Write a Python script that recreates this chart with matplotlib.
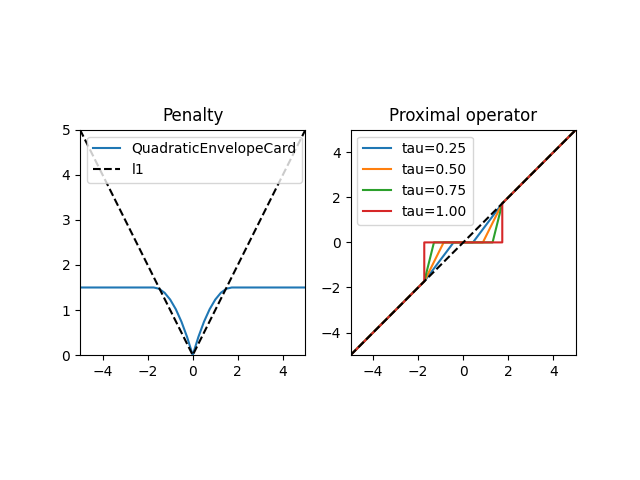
import matplotlib
matplotlib.use("Agg")
import matplotlib.pyplot as plt

# penalty curve (symmetric)
pen_x = [-5, -1.73, -1.5, -1.25, -1.0, -0.75, -0.5, -0.25, 0,
         0.25, 0.5, 0.75, 1.0, 1.25, 1.5, 1.73, 5]
pen_y = [1.5, 1.5, 1.473, 1.384, 1.232, 1.018, 0.741, 0.402, 0,
         0.402, 0.741, 1.018, 1.232, 1.384, 1.473, 1.5, 1.5]
l1_x = [-5, 0, 5]
l1_y = [5, 0, 5]

taus = [0.25, 0.50, 0.75, 1.00]
thresholds = [0.43, 0.87, 1.30, 1.73]  # where each prox leaves zero
knee = 1.73

fig, axes = plt.subplots(1, 2, figsize=(6.4, 4.8), dpi=100)

ax = axes[0]
ax.plot(pen_x, pen_y, label="QuadraticEnvelopeCard")
ax.plot(l1_x, l1_y, "--", color="black", label="l1")
ax.set_xlim(-5, 5)
ax.set_ylim(0, 5)
ax.set_box_aspect(1)
ax.set_title("Penalty")
ax.legend(loc="upper left")

ax = axes[1]
for tau, th in zip(taus, thresholds):
    xs = [-5, -knee, -th, th, knee, 5]
    ys = [-5, -knee, 0, 0, knee, 5]
    ax.plot(xs, ys, label=f"tau={tau:.2f}")
ax.plot([-5, 5], [-5, 5], "--", color="black")
ax.set_xlim(-5, 5)
ax.set_ylim(-5, 5)
ax.set_box_aspect(1)
ax.set_title("Proximal operator")
ax.legend(loc="upper left")

plt.savefig("out.png")
